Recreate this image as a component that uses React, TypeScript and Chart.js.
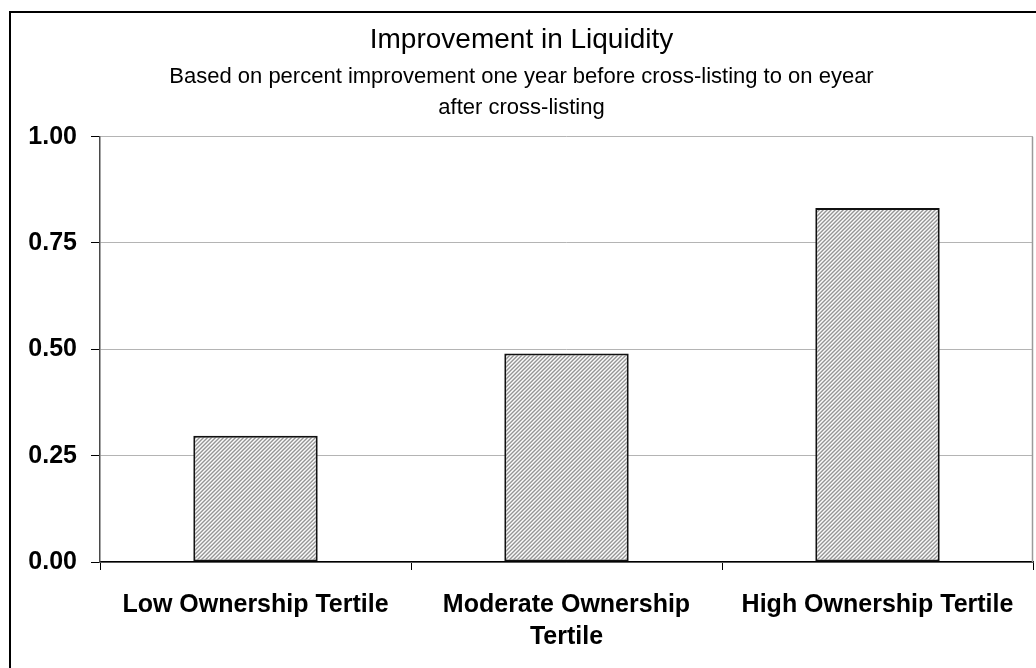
import React, { useEffect, useRef } from "react";
import { Chart, registerables } from "chart.js";

Chart.register(...registerables);

const titleText = "Improvement in Liquidity";
const subtitleLines = [
  "Based on percent improvement one year before cross-listing to on eyear",
  "after cross-listing",
];
const categories = [
  ["Low Ownership Tertile"],
  ["Moderate Ownership", "Tertile"],
  ["High Ownership Tertile"],
];
const liquidityImprovement = [0.297, 0.49, 0.832];
const yTickValues = [0, 0.25, 0.5, 0.75, 1.0];

const FONT = "Arial, 'Liberation Sans', sans-serif";

function makeHatch(): CanvasPattern | string {
  const c = document.createElement("canvas");
  c.width = 4;
  c.height = 4;
  const ctx = c.getContext("2d");
  if (!ctx) return "#bbbbbb";
  const shades = ["#969696", "#bdbdbd", "#fafafa", "#d6d6d6"];
  for (let y = 0; y < 4; y++) {
    for (let x = 0; x < 4; x++) {
      ctx.fillStyle = shades[(x + y) % 4];
      ctx.fillRect(x, y, 1, 1);
    }
  }
  return ctx.createPattern(c, "repeat") || "#bbbbbb";
}

const plotFrame = {
  id: "plotFrame",
  beforeDatasetsDraw(chart: any) {
    const { ctx, chartArea } = chart;
    ctx.save();
    ctx.strokeStyle = "#9a9a9a";
    ctx.lineWidth = 1.5;
    ctx.beginPath();
    ctx.moveTo(chartArea.right - 0.5, chartArea.top);
    ctx.lineTo(chartArea.right - 0.5, chartArea.bottom);
    ctx.stroke();
    ctx.restore();
  },
};

export default function App() {
  const ref = useRef<HTMLCanvasElement>(null);

  useEffect(() => {
    if (!ref.current) return;
    const hatch = makeHatch();
    const chart = new Chart(ref.current, {
      type: "bar",
      data: {
        labels: categories as any,
        datasets: [
          {
            label: "Improvement in Liquidity",
            data: liquidityImprovement,
            backgroundColor: hatch as any,
            borderColor: "#111111",
            borderWidth: 2,
            borderSkipped: false,
            categoryPercentage: 1,
            barPercentage: 0.4,
          },
        ],
      },
      plugins: [plotFrame],
      options: {
        responsive: false,
        animation: false,
        maintainAspectRatio: false,
        layout: { padding: { left: 10, right: 3, top: 0, bottom: 0 } },
        plugins: {
          legend: { display: false },
          tooltip: { enabled: false },
          title: {
            display: true,
            text: titleText,
            color: "#000",
            font: { family: FONT, size: 28, weight: "normal", lineHeight: 1.2 },
            padding: { top: 23, bottom: 0 },
          },
          subtitle: {
            display: true,
            text: subtitleLines,
            color: "#000",
            font: { family: FONT, size: 22, weight: "normal", lineHeight: 1.41 },
            padding: { top: 5, bottom: 13 },
          },
        },
        scales: {
          x: {
            offset: true,
            grid: {
              offset: true,
              drawOnChartArea: false,
              drawTicks: true,
              tickLength: 8,
              tickColor: "#000",
              tickWidth: 1,
            },
            border: { display: true, color: "#000", width: 1.5 },
            ticks: {
              color: "#000",
              font: { family: FONT, size: 25, weight: "bold", lineHeight: 1.28 },
              padding: 19,
              maxRotation: 0,
              autoSkip: false,
            },
            afterFit: (s: any) => {
              s.height = 106;
            },
          },
          y: {
            min: 0,
            max: 1,
            afterBuildTicks: (s: any) => {
              s.ticks = yTickValues.map((v) => ({ value: v }));
            },
            grid: {
              color: "#b4b4b4",
              lineWidth: 1,
              drawTicks: true,
              tickLength: 9,
              tickColor: "#000",
            },
            border: { display: true, color: "#4a4a4a", width: 1.5 },
            ticks: {
              color: "#000",
              font: { family: FONT, size: 25, weight: "bold" },
              padding: 14,
              callback: (v: any) => Number(v).toFixed(2),
            },
            afterFit: (s: any) => {
              s.width = 90;
            },
          },
        },
      },
    });
    return () => chart.destroy();
  }, []);

  return (
    <div
      style={{
        position: "fixed",
        left: 0,
        top: 0,
        width: 1036,
        height: 668,
        overflow: "hidden",
        background: "#fff",
      }}
    >
      <div
        style={{
          position: "absolute",
          left: 9,
          top: 11,
          width: 1200,
          height: 800,
          borderLeft: "2px solid #000",
          borderTop: "2px solid #000",
        }}
      />
      <canvas
        ref={ref}
        width={1036}
        height={668}
        style={{ position: "absolute", left: 0, top: 0, width: 1036, height: 668 }}
      />
    </div>
  );
}
